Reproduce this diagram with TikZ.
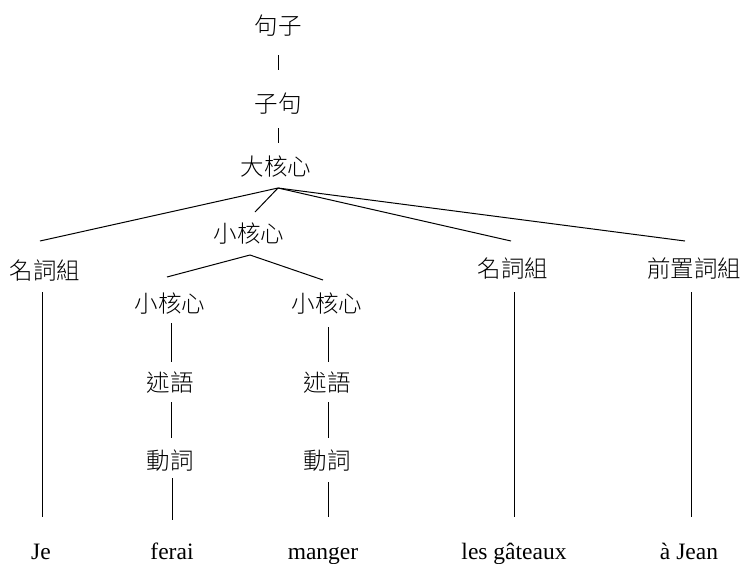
\documentclass[tikz,border=0pt]{standalone}
\usepackage{fontspec}
\setmainfont{Liberation Serif}
\newfontfamily\cjk[UprightFont={* Light}]{Noto Sans CJK TC}
\usetikzlibrary{calc}
\begin{document}
\begin{tikzpicture}[x=1pt,y=-1pt,
  cat/.style={inner sep=0pt,font=\cjk\fontsize{23.5}{24}\selectfont},
  word/.style={inner sep=0pt,anchor=base,font=\fontsize{23.5}{24}\selectfont},
  edge/.style={line width=1pt}]
\useasboundingbox (0,0) rectangle (744,563);
% nodes
\node[cat] (t1) at (278,26) {句子};
\node[cat] (t2) at (278,104) {子句};
\node[cat] (t3) at (276,167) {大核心};
\node[cat] (m)  at (249,234) {小核心};
\node[cat] (n1) at (45,271) {名詞組};
\node[cat] (k1) at (170,304) {小核心};
\node[cat] (k2) at (327,304) {小核心};
\node[cat] (n2) at (513,269) {名詞組};
\node[cat] (p)  at (694,269) {前置詞組};
\node[cat] (s1) at (170,383) {述語};
\node[cat] (s2) at (327,383) {述語};
\node[cat] (v1) at (170,461) {動詞};
\node[cat] (v2) at (327,461) {動詞};
\node[word] (w1) at (41,559) {Je};
\node[word] (w2) at (172,559) {ferai};
\node[word] (w3) at (323,559) {manger};
\node[word] (w4) at (514,559) {les gâteaux};
\node[word] (w5) at (689,559) {à Jean};
% connectors
\draw[edge] ($(t1.center)+(0,29)$) -- ($(t2.center)+(0,-34)$);
\draw[edge] ($(t2.center)+(0,24)$) -- ($(t3.center)+(2,-24)$);
\coordinate (apex) at ($(t3.center)+(2,21)$);
\draw[edge] (apex) -- ($(n1.center)+(-5,-30)$);
\draw[edge] (apex) -- ($(m.center)+(6,-22)$);
\draw[edge] (apex) -- ($(n2.center)+(-2,-28)$);
\draw[edge] (apex) -- ($(p.center)+(-9,-28)$);
\coordinate (mapex) at ($(m.center)+(1,21)$);
\draw[edge] (mapex) -- ($(k1.center)+(-3,-27)$);
\draw[edge] (mapex) -- ($(k2.center)+(-4,-24)$);
\draw[edge] ($(k1.center)+(1,19)$) -- ($(s1.center)+(1,-21)$);
\draw[edge] ($(s1.center)+(1,19)$) -- ($(v1.center)+(1,-23)$);
\draw[edge] ($(v1.center)+(2,17)$) -- ($(w2.base)+(0,-39)$);
\draw[edge] ($(k2.center)+(1,23)$) -- ($(s2.center)+(1,-21)$);
\draw[edge] ($(s2.center)+(1,19)$) -- ($(v2.center)+(1,-23)$);
\draw[edge] ($(v2.center)+(1,21)$) -- ($(w3.base)+(5,-42)$);
\draw[edge] ($(n1.center)+(-3,21)$) -- ($(w1.base)+(1,-42)$);
\draw[edge] ($(n2.center)+(1,23)$) -- ($(w4.base)+(0,-42)$);
\draw[edge] ($(p.center)+(-3,23)$) -- ($(w5.base)+(2,-42)$);
\end{tikzpicture}
\end{document}
